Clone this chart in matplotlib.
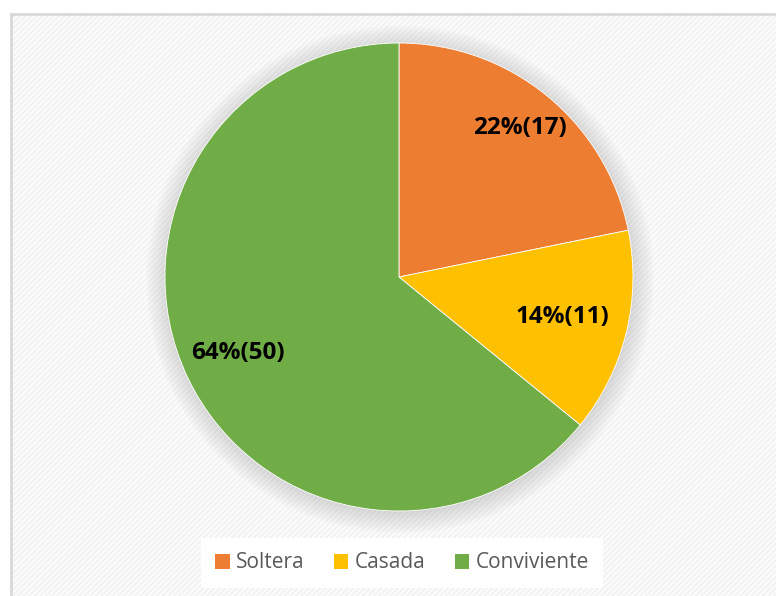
import numpy as np
import matplotlib.pyplot as plt
from matplotlib.patches import Rectangle, Circle

categories = ['Soltera', 'Casada', 'Conviviente']
counts = [17, 11, 50]
colors = ['#ed7d31', '#ffc000', '#70ad47']
label_dist = [0.82, 0.72, 0.76]

total = sum(counts)

fig = plt.figure(figsize=(7.76, 5.96), dpi=100)
fig.patch.set_facecolor('white')

# chart area frame with light patterned fill
bg = fig.add_axes([0, 0, 1, 1])
bg.set_xlim(0, 776)
bg.set_ylim(596, 0)
bg.axis('off')
bg.add_patch(Rectangle((11, 14), 800, 620, facecolor='#f3f3f3', edgecolor='white',
                       hatch='//////', linewidth=0))
bg.plot([11, 11], [14, 596], color='#d9d9d9', lw=2)
bg.plot([11, 776], [14, 14], color='#d9d9d9', lw=2)

ax = fig.add_axes([0.2126, 0.1426, 0.6031, 0.7852])

# soft shadow behind the pie
for k in range(8):
    ax.add_patch(Circle((0.005, -0.01), 1.0 + 0.012 * k, color='#7f7f7f',
                        alpha=0.035, lw=0, zorder=0, clip_on=False))

wedges, _ = ax.pie(counts, colors=colors, startangle=90, counterclock=False,
                   radius=1.0, wedgeprops=dict(linewidth=0.6, edgecolor='white'))
ax.set_xlim(-1, 1)
ax.set_ylim(-1, 1)
ax.axis('off')

for w, n, d in zip(wedges, counts, label_dist):
    ang = np.deg2rad((w.theta1 + w.theta2) / 2)
    ax.text(d * np.cos(ang), d * np.sin(ang),
            '%d%%(%d)' % (round(100 * n / total), n),
            ha='center', va='center', fontsize=17.5, fontweight='bold',
            color='black', family='Open Sans')

leg = fig.legend(wedges, categories, loc='center', bbox_to_anchor=(402 / 776, 1 - 563 / 596),
                 ncol=3, frameon=True, handlelength=0.7, handleheight=0.7,
                 handletextpad=0.3, columnspacing=1.4, borderpad=0.5,
                 prop={'family': 'Open Sans', 'size': 15})
leg.get_frame().set_facecolor('white')
leg.get_frame().set_edgecolor('none')
leg.get_frame().set_alpha(1)
leg.get_frame().set_boxstyle('square', pad=0.2)
for t in leg.get_texts():
    t.set_color('#595959')
for h in leg.legend_handles:
    h.set_edgecolor('none')

fig.savefig('out.png', dpi=100)
